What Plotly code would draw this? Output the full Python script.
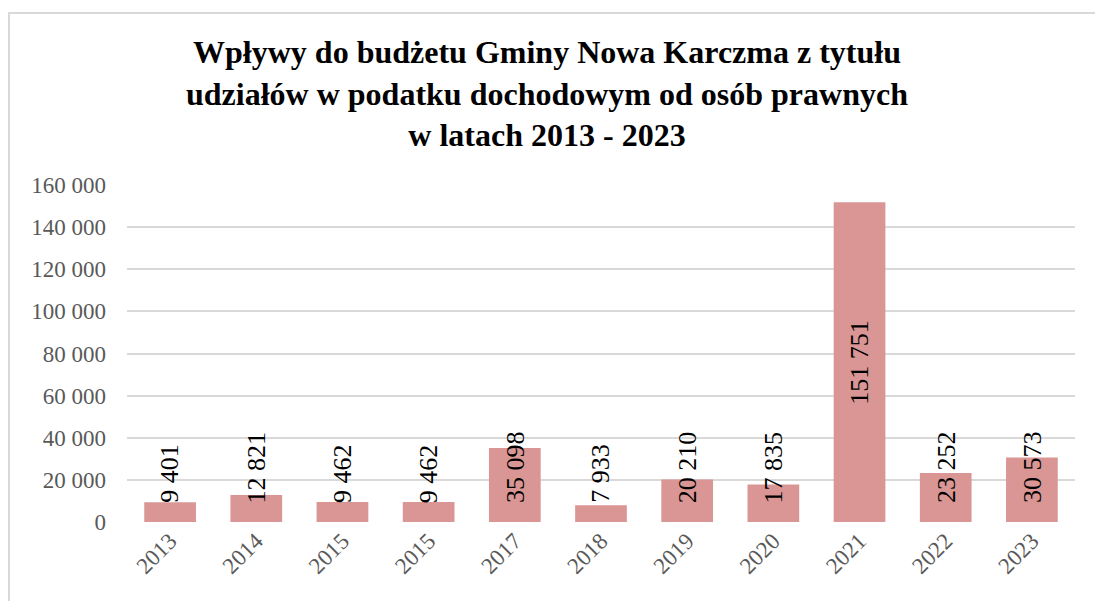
import plotly.graph_objects as go

years = ["2013", "2014", "2015", "2015", "2017", "2018", "2019", "2020", "2021", "2022", "2023"]
values = [9401, 12821, 9462, 9462, 35098, 7933, 20210, 17835, 151751, 23252, 30573]
labels = ["9 401", "12 821", "9 462", "9 462", "35 098", "7 933", "20 210", "17 835", "151 751", "23 252", "30 573"]
y_ticks = [0, 20000, 40000, 60000, 80000, 100000, 120000, 140000, 160000]
y_ticktext = ["0", "20 000", "40 000", "60 000", "80 000", "100 000", "120 000", "140 000", "160 000"]

title = "Wpływy do budżetu Gminy Nowa Karczma z tytułu<br>udziałów w podatku dochodowym od osób prawnych<br>w latach 2013 - 2023"

pos = list(range(len(years)))
SERIF = "Liberation Serif"

# page body has an 8px margin; figure coordinates below are page coords minus 8
L, R, T, B = 119, 36, 177, 87  # plot area page x 127..1075, y 185..522

fig = go.Figure()
fig.add_trace(go.Bar(x=pos, y=values, marker=dict(color="#D99694", line=dict(width=0)),
                     width=0.6, hoverinfo="skip"))

for i, (v, t) in enumerate(zip(values, labels)):
    if v > 80000:
        fig.add_annotation(x=i, y=v / 2, text=t, textangle=-90, showarrow=False,
                           xref="x", yref="y", yanchor="middle", xanchor="center",
                           font=dict(family=SERIF, size=26, color="black"))
    else:
        fig.add_annotation(x=i, y=8000, text=t, textangle=-90, showarrow=False,
                           xref="x", yref="y", yanchor="bottom", xanchor="center",
                           font=dict(family=SERIF, size=26, color="black"))

pw, ph = 1103 - L - R, 601 - T - B
bottom_px = 601 - B


def px_x(fx):
    return (fx - L) / pw


def px_y(fy):
    return (bottom_px - fy) / ph


# chart frame (figure px coords)
fig.add_shape(type="rect", xref="paper", yref="paper",
              x0=px_x(1), x1=px_x(1130), y0=px_y(650), y1=px_y(5),
              line=dict(color="#D9D9D9", width=2), fillcolor="rgba(0,0,0,0)", layer="below")

fig.update_layout(
    width=1103, height=601, autosize=False,
    margin=dict(l=L, r=R, t=T, b=B),
    paper_bgcolor="white", plot_bgcolor="white",
    showlegend=False,
    title=dict(text=title, x=539 / 1103, xanchor="center", y=1 - 55 / 601, yanchor="top",
               font=dict(family=SERIF, size=32, color="black", weight="bold")),
    xaxis=dict(range=[-0.5, 10.5], tickmode="array", tickvals=pos, ticktext=years,
               tickangle=-45, showgrid=False, zeroline=False, showline=False, automargin=False,
               tickfont=dict(family=SERIF, size=23, color="#595959"), ticks=""),
    yaxis=dict(range=[0, 160000], tickmode="array", tickvals=y_ticks, ticktext=y_ticktext,
               showgrid=True, gridcolor="#D9D9D9", gridwidth=2, zeroline=False, showline=False,
               automargin=False,
               tickfont=dict(family=SERIF, size=23, color="#595959"), ticks="",
               ticklabelstandoff=20),
)

fig.write_html("out.html")
